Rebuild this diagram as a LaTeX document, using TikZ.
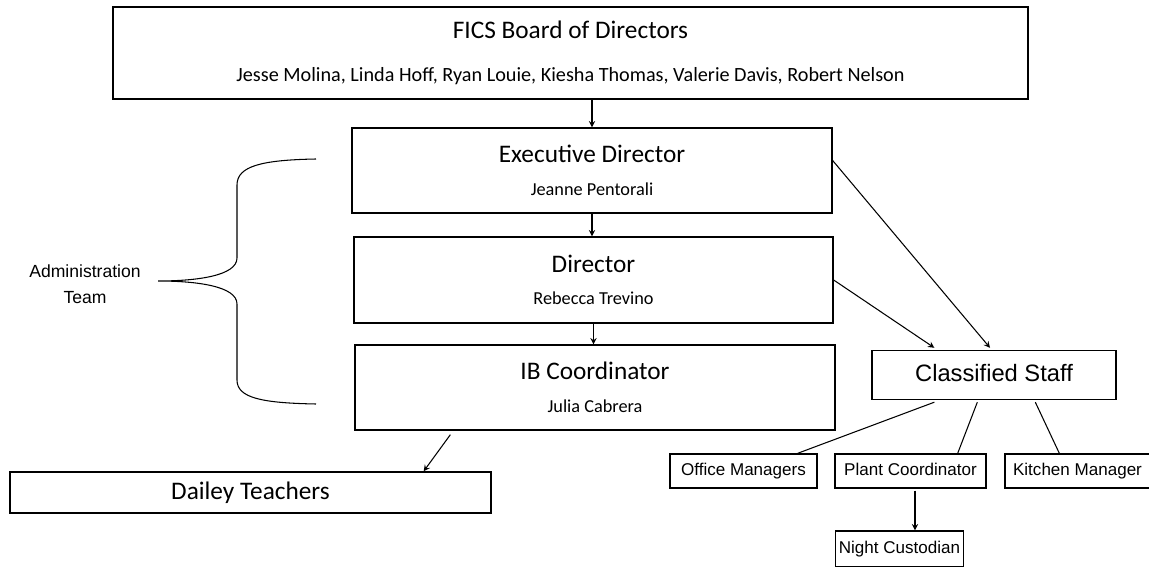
\documentclass[tikz,border=0pt]{standalone}
\usepackage{fontspec}
\setmainfont{Carlito}
\newfontfamily\tahoma{Liberation Sans}
\usetikzlibrary{arrows,calc}

\newcommand{\ttl}{\fontsize{14.4}{17}\selectfont}

\tikzset{
  box/.style={draw, line width=0.8pt, inner sep=2pt, align=center, font=\fontsize{10.4}{12.5}\selectfont},
  smallbox/.style={draw, line width=0.8pt, inner sep=2pt, text height=7.2pt, text depth=2.2pt, font=\tahoma\fontsize{9.7}{11}\selectfont},
  link/.style={line width=0.6pt},
  arr/.style={->, >=stealth, line width=0.6pt}
}

\begin{document}
\begin{tikzpicture}[x=0.02cm, y=-0.02cm]
    \useasboundingbox (0,0) rectangle (1149,567);

    % Board and administration
    \node[box, minimum width=18.3cm, minimum height=1.84cm] (board) at (570.5,53)
        {{\ttl FICS Board of Directors}\\[12pt]{\fontsize{11.5}{12.5}\selectfont Jesse Molina, Linda Hoff, Ryan Louie, Kiesha Thomas, Valerie Davis, Robert Nelson}};
    \node[box, minimum width=9.6cm, minimum height=1.7cm] (exec) at (592,170.5)
        {{\ttl Executive Director}\\[6pt]Jeanne Pentorali};
    \node[box, minimum width=9.58cm, minimum height=1.72cm] (dir) at (593.5,280)
        {{\ttl Director}\\[6pt]Rebecca Trevino};
    \node[box, minimum width=9.6cm, minimum height=1.7cm] (ib) at (595,387.5)
        {{\ttl IB Coordinator}\\[6pt]Julia Cabrera};
    \node[box, minimum width=9.62cm, minimum height=0.82cm, font=\ttl] (teach) at (250.5,492.5) {Dailey Teachers};

    % Classified staff
    \node[smallbox, minimum width=4.88cm, minimum height=0.98cm, text height=10pt, text depth=3pt, font=\tahoma\fontsize{13.5}{16}\selectfont] (staff) at (994,375) {Classified Staff};
    \node[smallbox, minimum width=2.94cm, minimum height=0.68cm] (office) at (743.5,471) {Office Managers};
    \node[smallbox, minimum width=3.02cm, minimum height=0.68cm] (plant) at (910.5,471) {Plant Coordinator};
    \node[smallbox, minimum width=2.9cm, minimum height=0.68cm] (kitchen) at (1077.5,471) {Kitchen Manager};
    \node[smallbox, minimum width=2.42cm, minimum height=0.72cm] (night) at (899.5,549) {Night Custodian};
    \coordinate (plantout) at ($(plant.south)+(4.5,2)$);

    % Administration team brace
    \node[align=center, font=\tahoma\fontsize{10}{14.8}\selectfont] (admin) at (85,284) {Administration\\Team};
    \draw[link] (316,159) .. controls (262,160) and (237,166) .. (237,185) -- (237,258)
        .. controls (237,276) and (196,281) .. (158,281)
        .. controls (196,281) and (237,286) .. (237,304) -- (237,380)
        .. controls (237,398) and (262,403) .. (316,404);

    % Lines of report
    \draw[arr] (exec.north |- board.south) -- (exec.north);
    \draw[arr] (exec.south) -- (exec.south |- dir.north);
    \draw[arr] (dir.south) -- (dir.south |- ib.north);
    \draw[arr] ($(ib.south west)+(96,4)$) -- ($(teach.north east)+(-68,0)$);
    \draw[arr] ([yshift=0.2cm]exec.east) -- ($(staff.north)+(-4,-2)$);
    \draw[arr] (dir.east) -- ($(staff.north west)+(63,-2)$);
    \draw[link] ($(staff.south west)+(63,2)$) -- ($(office.north east)+(-20,0)$);
    \draw[link] ($(staff.south west)+(106,2)$) -- ($(plant.north east)+(-29,0)$);
    \draw[link] ($(staff.south west)+(164,2)$) -- ($(kitchen.north west)+(55,0)$);
    \draw[arr] (plantout) -- (plantout |- night.north);
\end{tikzpicture}
\end{document}
